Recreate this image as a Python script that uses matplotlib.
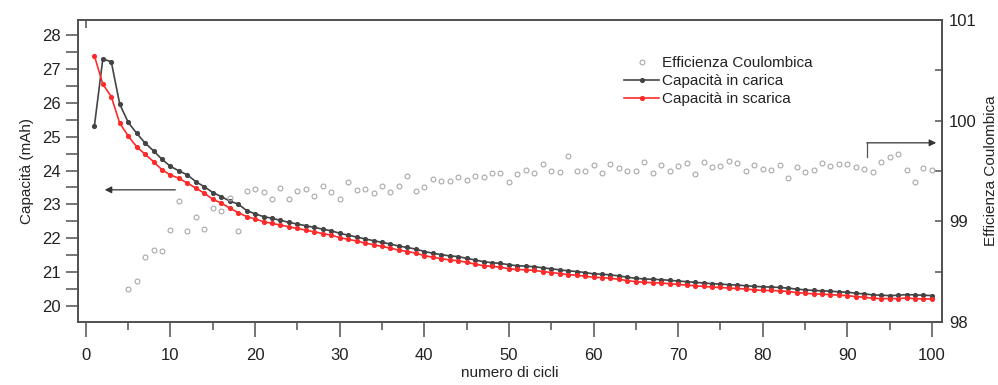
import numpy as np
import matplotlib.pyplot as plt
from matplotlib.ticker import MultipleLocator

plt.rcParams['font.family'] = ['Liberation Sans', 'DejaVu Sans']

# cycle numbers
cicli = np.arange(1, 101)

# charge capacity (mAh)
cap_carica = [
    25.30, 27.29, 27.21, 25.96, 25.42, 25.10, 24.81, 24.58, 24.33, 24.12,
    23.99, 23.87, 23.67, 23.52, 23.35, 23.23, 23.10, 23.01, 22.82, 22.72,
    22.64, 22.59, 22.53, 22.47, 22.42, 22.37, 22.32, 22.27, 22.22, 22.15,
    22.09, 22.04, 21.98, 21.93, 21.88, 21.83, 21.77, 21.73, 21.68, 21.61,
    21.56, 21.52, 21.48, 21.46, 21.41, 21.36, 21.31, 21.28, 21.26, 21.22,
    21.19, 21.18, 21.16, 21.13, 21.10, 21.07, 21.04, 21.02, 20.99, 20.95,
    20.94, 20.92, 20.89, 20.85, 20.82, 20.80, 20.79, 20.78, 20.76, 20.74,
    20.72, 20.70, 20.68, 20.66, 20.65, 20.63, 20.62, 20.60, 20.58, 20.57,
    20.56, 20.55, 20.53, 20.50, 20.48, 20.46, 20.45, 20.44, 20.42, 20.41,
    20.38, 20.36, 20.33, 20.32, 20.31, 20.32, 20.34, 20.33, 20.32, 20.31,
]

# discharge capacity (mAh)
cap_scarica = [
    27.39, 26.55, 26.18, 25.40, 25.02, 24.70, 24.48, 24.26, 24.02, 23.87,
    23.77, 23.63, 23.48, 23.33, 23.15, 23.04, 22.89, 22.76, 22.64, 22.57,
    22.49, 22.44, 22.39, 22.34, 22.29, 22.24, 22.19, 22.14, 22.09, 22.02,
    21.97, 21.92, 21.86, 21.81, 21.76, 21.71, 21.65, 21.61, 21.56, 21.49,
    21.44, 21.40, 21.36, 21.34, 21.29, 21.24, 21.19, 21.17, 21.15, 21.10,
    21.08, 21.07, 21.05, 21.02, 20.99, 20.96, 20.93, 20.91, 20.88, 20.85,
    20.84, 20.82, 20.79, 20.75, 20.72, 20.70, 20.69, 20.68, 20.66, 20.64,
    20.62, 20.60, 20.58, 20.56, 20.55, 20.53, 20.52, 20.50, 20.48, 20.46,
    20.46, 20.45, 20.43, 20.40, 20.38, 20.36, 20.35, 20.34, 20.32, 20.31,
    20.28, 20.26, 20.23, 20.22, 20.22, 20.22, 20.24, 20.22, 20.21, 20.21,
]

# coulombic efficiency (%), from cycle 5
cicli_eff = np.arange(5, 101)
efficienza = [
    98.33, 98.41, 98.65, 98.72, 98.71, 98.91, 99.20, 98.90, 99.04, 98.92,
    99.13, 99.10, 99.23, 98.90, 99.30, 99.32, 99.29, 99.22, 99.33, 99.22,
    99.30, 99.32, 99.25, 99.35, 99.29, 99.22, 99.39, 99.31, 99.32, 99.28,
    99.35, 99.29, 99.35, 99.45, 99.30, 99.34, 99.42, 99.40, 99.40, 99.44,
    99.41, 99.45, 99.44, 99.48, 99.48, 99.39, 99.47, 99.51, 99.48, 99.57,
    99.50, 99.49, 99.65, 99.50, 99.50, 99.56, 99.48, 99.57, 99.53, 99.50,
    99.50, 99.59, 99.48, 99.56, 99.50, 99.55, 99.58, 99.47, 99.59, 99.54,
    99.55, 99.60, 99.58, 99.50, 99.56, 99.52, 99.51, 99.56, 99.43, 99.54,
    99.49, 99.51, 99.58, 99.55, 99.57, 99.57, 99.54, 99.52, 99.49, 99.59,
    99.64, 99.67, 99.51, 99.39, 99.53, 99.51,
]

fig = plt.figure(figsize=(9.98, 3.85), dpi=100)
ax = fig.add_axes([0.078, 0.1636, 0.866, 0.7844])
ax2 = ax.twinx()

spine_col = '#505050'
txt_col = '#222222'

l1, = ax.plot(cicli, cap_carica, color='#444444', lw=1.2, marker='o',
              ms=2.7, label='Capacità in carica', zorder=3)
l2, = ax.plot(cicli, cap_scarica, color='#ff2a2a', lw=1.2, marker='o',
              ms=2.7, label='Capacità in scarica', zorder=3)
l0, = ax2.plot(cicli_eff, efficienza, ls='none', marker='o', ms=3.5,
               mfc='none', mec='#a8a8a8', mew=0.8, label='Efficienza Coulombica')

ax.set_xlim(-0.95, 101.2)
ax.set_ylim(19.53, 28.44)
ax2.set_ylim(98, 101)

ax.xaxis.set_major_locator(MultipleLocator(10))
ax.xaxis.set_minor_locator(MultipleLocator(5))
ax.yaxis.set_major_locator(MultipleLocator(1))
ax.yaxis.set_minor_locator(MultipleLocator(0.5))
ax2.yaxis.set_major_locator(MultipleLocator(1))
ax2.yaxis.set_minor_locator(MultipleLocator(0.5))

ax.tick_params(axis='x', which='major', direction='out', length=11, width=1.1,
               color=spine_col, labelsize=12, labelcolor=txt_col, pad=8)
ax.tick_params(axis='x', which='minor', direction='out', length=6, width=1.1,
               color=spine_col)
ax.tick_params(axis='y', which='both', direction='out', length=9, width=1.1,
               color=spine_col, labelsize=12, labelcolor=txt_col, pad=3)
ax2.tick_params(axis='y', which='both', direction='in', length=5, width=1.1,
                color=spine_col, labelsize=12, labelcolor=txt_col, pad=5)

# single tick on the top spine at x = 0
top = ax.secondary_xaxis('top')
top.set_xticks([0])
top.set_xticklabels([])
top.tick_params(direction='in', length=6, width=1.1, color=spine_col)
top.spines['top'].set_visible(False)

for a in (ax, ax2):
    for s in a.spines.values():
        s.set_color(spine_col)
        s.set_linewidth(1.2)

ax.set_xlabel('numero di cicli', fontsize=11, color=txt_col, labelpad=2)
ax.set_ylabel('Capacità (mAh)', fontsize=11, color=txt_col, labelpad=6)
ax2.set_ylabel('Efficienza Coulombica', fontsize=11, color=txt_col, labelpad=5)

# arrows pointing to the relevant axis
ax.annotate('', xy=(1.9, 23.43), xytext=(10.9, 23.43),
            arrowprops=dict(arrowstyle='-|>', color='#333333', lw=0.9,
                            mutation_scale=10))
ax2.plot([92.3, 92.3], [99.64, 99.78], color='#555555', lw=0.9)
ax2.annotate('', xy=(100.5, 99.78), xytext=(92.3, 99.78),
             arrowprops=dict(arrowstyle='-|>', color='#333333', lw=0.9,
                             mutation_scale=10, shrinkA=0, shrinkB=0))

leg = ax.legend([l0, l1, l2], [l0.get_label(), l1.get_label(), l2.get_label()],
                loc='upper left', bbox_to_anchor=(0.625, 0.9), frameon=False,
                fontsize=11, handlelength=2.3, handletextpad=0.2,
                labelspacing=0.25, borderaxespad=0)
for t in leg.get_texts():
    t.set_color(txt_col)

fig.savefig('out.png', dpi=100)
